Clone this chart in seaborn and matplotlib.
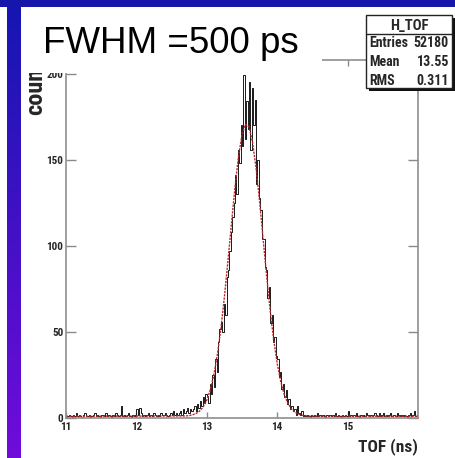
import numpy as np
import pandas as pd
import matplotlib
matplotlib.use("Agg")
import matplotlib.pyplot as plt
from matplotlib import font_manager as fm
from matplotlib.patches import Rectangle
import seaborn as sns

# ---- data -------------------------------------------------------------
# TOF histogram: 0.02 ns bins from 11 to 16 ns, counts per bin
bin_lo = 11.0
bin_hi = 16.0
bin_width = 0.02
counts = [
    0, 1, 2, 1, 0, 2, 1, 3, 1, 2,
    1, 0, 2, 3, 1, 1, 2, 0, 1, 2,
    3, 1, 2, 1, 0, 2, 2, 1, 3, 1,
    2, 1, 0, 2, 1, 3, 2, 1, 2, 7,
    1, 2, 1, 2, 3, 1, 0, 2, 1, 2,
    5, 2, 6, 3, 1, 2, 1, 2, 3, 1,
    2, 1, 3, 2, 1, 2, 1, 3, 2, 2,
    3, 2, 1, 2, 3, 2, 4, 2, 3, 2,
    3, 4, 2, 5, 3, 4, 6, 3, 5, 4,
    5, 7, 4, 8, 6, 10, 7, 12, 9, 14,
    13, 9, 20, 14, 25, 18, 34, 27, 44, 52,
    56, 50, 66, 60, 82, 86, 97, 108, 117, 125,
    141, 130, 156, 148, 170, 158, 199, 162, 184, 168,
    195, 156, 192, 170, 185, 136, 150, 128, 121, 104,
    104, 88, 86, 70, 76, 55, 60, 44, 47, 36,
    34, 24, 27, 17, 20, 12, 16, 8, 11, 5,
    7, 4, 5, 2, 7, 3, 2, 4, 1, 2,
    1, 2, 1, 0, 2, 1, 2, 1, 3, 1,
    2, 1, 2, 1, 0, 2, 1, 2, 1, 2,
    1, 3, 1, 2, 1, 0, 2, 1, 2, 1,
    4, 1, 2, 1, 2, 1, 3, 1, 0, 2,
    1, 2, 1, 3, 2, 1, 2, 1, 2, 3,
    2, 1, 3, 1, 2, 3, 1, 2, 1, 2,
    3, 1, 2, 2, 1, 3, 2, 1, 2, 1,
    2, 1, 0, 2, 3, 1, 2, 4, 1, 2,
]

# fitted curve (ns, counts)
fit_t = [11.0, 12.70, 12.75, 12.80, 12.85, 12.90, 12.95, 13.00, 13.05, 13.10,
         13.15, 13.20, 13.25, 13.30, 13.35, 13.40, 13.45, 13.50, 13.55, 13.60,
         13.65, 13.70, 13.75, 13.80, 13.85, 13.90, 13.95, 14.00, 14.05, 14.10,
         14.15, 14.20, 14.25, 14.30, 14.35, 14.40, 14.45, 16.0]
fit_v = [1.0, 1.2, 1.4, 1.9, 2.7, 4.1, 6.5, 10.4, 16.4, 25.0,
         36.8, 51.9, 70.3, 91.0, 112.8, 133.9, 151.8, 164.6, 170.7, 169.1,
         160.2, 145.2, 125.7, 104.1, 82.5, 62.5, 45.4, 31.7, 21.2, 13.7,
         8.7, 5.4, 3.4, 2.3, 1.6, 1.3, 1.1, 1.0]

x_ticks = [11, 12, 13, 14, 15]
y_ticks = [0, 50, 100, 150, 200]

title_text = "FWHM =500 ps"
hist_name = "H_TOF"
stats_names = ["Entries", "Mean", "RMS"]
stats_values = ["52180", "13.55", "0.311"]
x_title = "TOF (ns)"
y_title = "counts"


# ---- fonts ------------------------------------------------------------
def pick_narrow():
    """Find a narrow sans face; fall back to a plain one with a size factor."""
    entries = [(f.name, f.stretch) for f in fm.fontManager.ttflist]
    names = {e[0] for e in entries}
    for fam in ["Liberation Sans Narrow", "Arial Narrow", "Roboto Condensed",
                "Open Sans Condensed", "Noto Sans Condensed", "DejaVu Sans Condensed"]:
        if fam in names:
            return fam, "normal", 1.0
    for fam in ["Liberation Sans", "Roboto", "Noto Sans", "Open Sans", "DejaVu Sans"]:
        if any(n == fam and s in ("condensed", "semi-condensed", "extra-condensed")
               for n, s in entries):
            return fam, "condensed", 1.0
    return "Liberation Sans", "normal", 0.84


narrow_family, narrow_stretch, size_k = pick_narrow()
nfont = dict(family=[narrow_family, "DejaVu Sans"], stretch=narrow_stretch,
             weight="bold")

# ---- figure -----------------------------------------------------------
sns.set_style("white")
plt.rcParams["font.family"] = [narrow_family, "DejaVu Sans"]

W, H = 456, 458
fig = plt.figure(figsize=(W / 100, H / 100), dpi=100)
fig.patch.set_facecolor("white")


def fx(px):
    return px / W


def fy(py):
    return 1 - py / H


ax = fig.add_axes([fx(66), fy(418), fx(418) - fx(66), fy(60) - fy(418)])
ax.set_facecolor("white")

n_bins = len(counts)
hist_df = pd.DataFrame({"tof": bin_lo + bin_width * (np.arange(n_bins) + 0.5),
                        "n": np.asarray(counts, dtype=float)})
fit_df = pd.DataFrame({"tof": fit_t, "n": fit_v})

sns.histplot(data=hist_df, x="tof", weights="n", bins=n_bins,
             binrange=(bin_lo, bin_hi), element="step",
             fill=False, color="#1a1a1a", linewidth=0.7, ax=ax)
sns.lineplot(data=fit_df, x="tof", y="n", sort=False, estimator=None,
             color="#b8282a", linewidth=1.0, linestyle=(0, (1.6, 0.8)), ax=ax)

ax.set_xlim(11, 16)
ax.set_ylim(0, 208)
ax.set_xticks(x_ticks)
ax.set_yticks(y_ticks)
ax.set_xticklabels([str(v) for v in x_ticks], fontsize=8 * size_k, **nfont)
ax.set_yticklabels([str(v) for v in y_ticks], fontsize=8 * size_k, **nfont)
ax.tick_params(axis="y", direction="in", length=7.5, width=1.0, color="#8a8a8a",
               left=True, right=True, pad=2)
ax.tick_params(axis="x", direction="in", length=4.5, width=1.0, color="#8a8a8a",
               bottom=True, top=True, pad=3)
for s in ax.spines.values():
    s.set_visible(True)
    s.set_color("#8f8f8f")
    s.set_linewidth(1.2)

ax.set_xlabel(x_title, fontsize=12.5 * size_k, **nfont)
ax.xaxis.set_label_coords(1.0, -0.056)
ax.xaxis.label.set(ha="right", va="top")
ax.set_ylabel(y_title, fontsize=17.5 * size_k, **nfont)
ax.yaxis.set_label_coords((35.5 - 66) / 352, (418 - 115) / 358)
ax.yaxis.label.set(ha="center", va="bottom", rotation_mode="default")

# ---- page decoration --------------------------------------------------
# blue band across the top
fig.patches.append(Rectangle((0, fy(7)), 1, 7 / H, transform=fig.transFigure,
                             facecolor="#1616aa", edgecolor="none", zorder=5))
# vertical gradient strip on the left
strip = fig.add_axes([fx(7), 0, fx(21) - fx(7), fy(7)])
top_c = np.array([22, 22, 178]) / 255
bot_c = np.array([112, 12, 218]) / 255
tt = np.linspace(0, 1, 256)[:, None]
grad = (1 - tt)[:, :, None] * top_c + tt[:, :, None] * bot_c
grad = np.repeat(grad, 2, axis=1)
strip.imshow(grad, aspect="auto", interpolation="bilinear")
strip.set_axis_off()

# white title panel
fig.patches.append(Rectangle((fx(22), fy(73)), fx(322) - fx(22), fy(8) - fy(73),
                             transform=fig.transFigure, facecolor="white",
                             edgecolor="none", zorder=2))
fig.text(fx(43), fy(53), title_text, fontsize=26.5, family=["Liberation Sans", "DejaVu Sans"],
         ha="left", va="baseline", color="black", zorder=3)

# statistics box with drop shadow
bx0, by0, bx1, by1 = 366, 15, 452, 88
fig.patches.append(Rectangle((fx(bx0 + 3), fy(by1 + 3)), fx(bx1) - fx(bx0), fy(by0) - fy(by1),
                             transform=fig.transFigure, facecolor="#111111",
                             edgecolor="none", zorder=4))
fig.patches.append(Rectangle((fx(bx0), fy(by1)), fx(bx1) - fx(bx0), fy(by0) - fy(by1),
                             transform=fig.transFigure, facecolor="white",
                             edgecolor="#222222", linewidth=1.0, zorder=5))
fig.lines.append(plt.Line2D([fx(bx0), fx(bx1)], [fy(34), fy(34)], transform=fig.transFigure,
                            color="#222222", linewidth=1.0, zorder=6))
fig.text(fx((bx0 + bx1) / 2), fy(25.5), hist_name, fontsize=10.5 * size_k,
         ha="center", va="center", zorder=7, **nfont)
for i, (nm, val) in enumerate(zip(stats_names, stats_values)):
    yc = fy(43 + 19 * i)
    fig.text(fx(369), yc, nm, fontsize=10 * size_k, ha="left", va="center", zorder=7, **nfont)
    fig.text(fx(449), yc, val, fontsize=10 * size_k, ha="right", va="center", zorder=7, **nfont)

fig.savefig("out.png", dpi=100)
